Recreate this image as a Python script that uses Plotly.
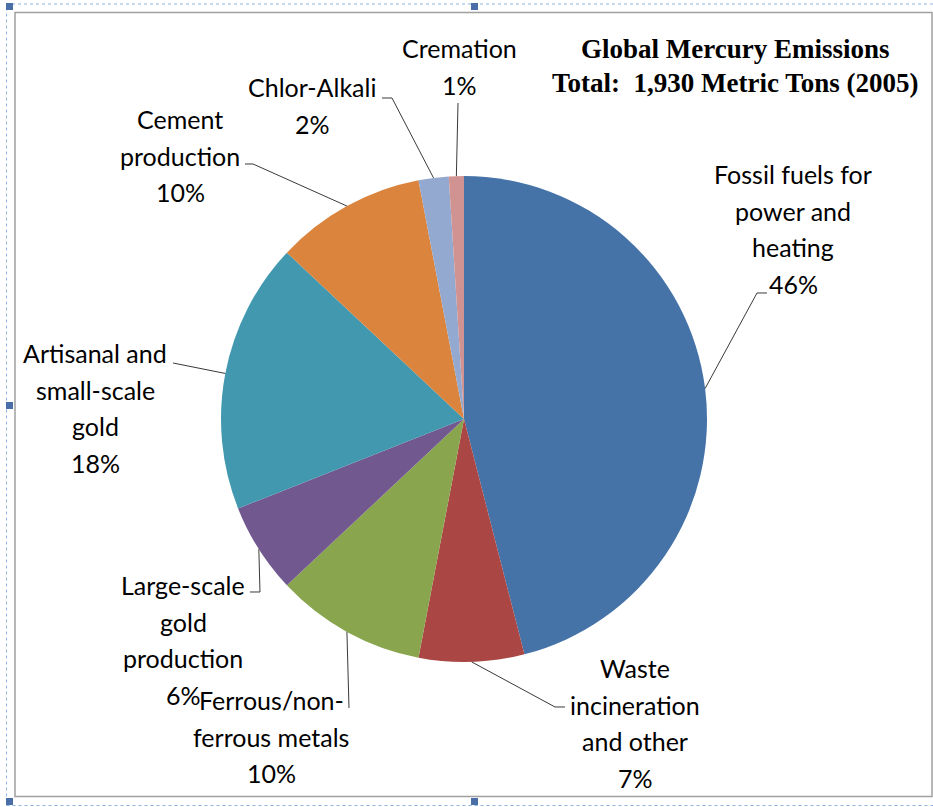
import math
import plotly.graph_objects as go

# ---------------- data ----------------
categories = ["Fossil fuels for power and heating", "Waste incineration and other",
              "Ferrous/non-ferrous metals", "Large-scale gold production",
              "Artisanal and small-scale gold", "Cement production",
              "Chlor-Alkali", "Cremation"]
values = [46, 7, 10, 6, 18, 10, 2, 1]
label_lines = [["Fossil fuels for", "power and", "heating"],
               ["Waste", "incineration", "and other"],
               ["Ferrous/non-", "ferrous metals"],
               ["Large-scale", "gold", "production"],
               ["Artisanal and", "small-scale", "gold"],
               ["Cement", "production"],
               ["Chlor-Alkali"],
               ["Cremation"]]
colors = ["#4572A7", "#AA4643", "#89A54E", "#71588F", "#4198AF", "#DB843D", "#93A9CF", "#D19392"]
title_lines = ["Global Mercury Emissions", "Total:  1,930 Metric Tons (2005)"]

# ---------------- layout constants (pixels) ----------------
W, H = 933, 807
CX, CY, R = 464, 419, 243
# label block: centre x, first line y, line step
label_pos = [(793, 174), (635, 668), (271, 700), (183, 585), (95, 353), (180, 119), (312, 87), (459, 48)]
STEP = 36.5
# leader-line waypoints from label side (before reaching the pie edge)
leader_pts = [[(767, 293), (757, 293)],
              [(565, 707), (555, 707)],
              [(349, 708)],
              [(250, 592), (260, 592)],
              [(173, 363)],
              [(245, 164), (253, 164)],
              [(382, 98), (392, 98)],
              [(458, 103)]]


def fx(x):
    return x / W


def fy(y):
    return 1 - y / H


fig = go.Figure()
fig.add_trace(go.Pie(
    labels=categories, values=values, sort=False, direction="clockwise", rotation=0,
    marker=dict(colors=colors, line=dict(width=0)), textinfo="none", hoverinfo="label+percent",
    showlegend=False,
    domain=dict(x=[fx(CX - R), fx(CX + R)], y=[fy(CY + R), fy(CY - R)]),
))

shapes = []
annotations = []
total = sum(values)
cum = 0
LABEL_FONT = dict(family="Lato, Carlito, Calibri, sans-serif", size=25, color="#000000")
for i, v in enumerate(values):
    m = (cum + v / 2) / total
    cum += v
    th = 2 * math.pi * m
    ex, ey = CX + R * math.sin(th), CY - R * math.cos(th)
    pts = leader_pts[i] + [(ex, ey)]
    path = "M " + " L ".join(f"{fx(px):.5f},{fy(py):.5f}" for px, py in pts)
    shapes.append(dict(type="path", path=path, xref="paper", yref="paper",
                       line=dict(color="#3a3a3a", width=1)))
    lx, ly = label_pos[i]
    lines = label_lines[i] + [f"{v}%"]
    for k, t in enumerate(lines):
        annotations.append(dict(text=t, x=fx(lx), y=fy(ly + k * STEP), xref="paper", yref="paper",
                                xanchor="center", yanchor="middle", showarrow=False, font=LABEL_FONT))

for k, t in enumerate(title_lines):
    annotations.append(dict(text=f"<b>{t}</b>", x=fx(735), y=fy(49 + k * 34), xref="paper", yref="paper",
                            xanchor="center", yanchor="middle", showarrow=False,
                            font=dict(family="Liberation Serif, Times New Roman, serif", size=27, color="#000000")))

# chart-area border and selection frame
shapes.append(dict(type="rect", xref="paper", yref="paper", x0=fx(15), x1=fx(932), y0=fy(796.5), y1=fy(12.5),
                   line=dict(color="#a0a0a0", width=1.5)))
shapes.append(dict(type="rect", xref="paper", yref="paper", x0=fx(6.5), x1=fx(945), y0=fy(805.5), y1=fy(4),
                   line=dict(color="#8DB3E2", width=1, dash="dot")))
for hx, hy in [(6, 3), (471, 3), (6, 402), (6, 798), (471, 798)]:
    shapes.append(dict(type="rect", xref="paper", yref="paper", x0=fx(hx), x1=fx(hx + 7), y0=fy(hy + 7), y1=fy(hy),
                       line=dict(width=0), fillcolor="#4A6FA8"))

fig.update_layout(width=W, height=H, autosize=False, margin=dict(l=0, r=0, t=0, b=0),
                  paper_bgcolor="white", plot_bgcolor="white",
                  shapes=shapes, annotations=annotations)
fig.write_html("out.html")
